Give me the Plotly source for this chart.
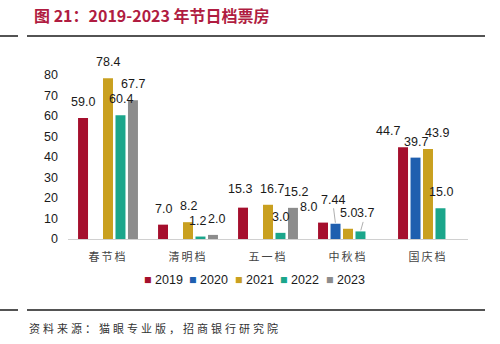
import plotly.graph_objects as go

categories = ["春节档", "清明档", "五一档", "中秋档", "国庆档"]
years = ["2019", "2020", "2021", "2022", "2023"]
v2019 = [59.0, 7.0, 15.3, 8.0, 44.7]
v2020 = [None, None, None, 7.44, 39.7]
v2021 = [78.4, 8.2, 16.7, 5.0, 43.9]
v2022 = [60.4, 1.2, 3.0, 3.7, 15.0]
v2023 = [67.7, 2.0, 15.2, None, None]
series = [v2019, v2020, v2021, v2022, v2023]
label_text = [
    ["59.0", "7.0", "15.3", "8.0", "44.7"],
    [None, None, None, "7.44", "39.7"],
    ["78.4", "8.2", "16.7", "5.0", "43.9"],
    ["60.4", "1.2", "3.0", "3.7", "15.0"],
    ["67.7", "2.0", "15.2", None, None],
]
colors = ["#a50f2d", "#1f5faf", "#c9a020", "#1ba68b", "#8c8c8c"]
y_ticks = [0, 10, 20, 30, 40, 50, 60, 70, 80]
title = "图 21：2019-2023 年节日档票房"
source = "资料来源：猫眼专业版，招商银行研究院"

# label pixel nudges (dx, dy) per (series, category)
nudge = {
    (0, 3): (-15, 0),
    (0, 4): (-15, 0),
    (2, 2): (4, 0),
    (4, 2): (3, 0),
    (2, 4): (9, 0),
    (0, 2): (-3, 3),
    (3, 1): (-3, 0),
    (4, 1): (3, 0),
}
leader = {(1, 3): (-3, -24), (3, 3): (5, -18)}

L, R, T, B = 68, 32, 75, 105
W, H = 500, 344
pw, ph = W - L - R, H - T - B

fig = go.Figure()
for i, (yr, vals, c) in enumerate(zip(years, series, colors)):
    fig.add_trace(go.Bar(x=categories, y=vals, name=yr, marker_color=c,
                         marker_line_width=0, showlegend=False))

slot = 12.5
anns = []
for i, vals in enumerate(series):
    off = (i - 2) * slot
    for j, v in enumerate(vals):
        t = label_text[i][j]
        if v is None or t is None:
            continue
        font = dict(family="Liberation Sans, Arial", size=12.5, color="#1a1a1a")
        if (i, j) in leader:
            ax, ay = leader[(i, j)]
            anns.append(dict(x=categories[j], y=v, xref="x", yref="y", text=t,
                             showarrow=True, arrowhead=0, arrowwidth=0.8,
                             arrowcolor="#999999", ax=ax, ay=ay, xshift=off,
                             standoff=1, font=font))
        else:
            dx, dy = nudge.get((i, j), (0, 0))
            anns.append(dict(x=categories[j], y=v, xref="x", yref="y", text=t,
                             showarrow=False, xshift=off + dx, yshift=16 + dy,
                             yanchor="middle", font=font))

# title and source
anns.append(dict(x=(32 - L) / pw, y=(239 - 15) / ph, xref="paper", yref="paper",
                 text="<b>" + title + "</b>", showarrow=False, xanchor="left",
                 yanchor="middle",
                 font=dict(family="Noto Sans CJK SC", size=16, color="#b01c41")))
anns.append(dict(x=(27 - L) / pw, y=(239 - 328) / ph, xref="paper", yref="paper",
                 text='<span style="letter-spacing:3px">' + source + "</span>",
                 showarrow=False, xanchor="left", yanchor="middle",
                 font=dict(family="Noto Sans CJK SC", size=11, color="#333333")))

# manual legend
leg_x0 = 142
for i, (yr, c) in enumerate(zip(years, colors)):
    px = leg_x0 + i * 45.4
    anns.append(dict(x=(px - L) / pw, y=(239 - 280) / ph, xref="paper", yref="paper",
                     text='<span style="color:%s">■</span> %s' % (c, yr),
                     showarrow=False, xanchor="left", yanchor="middle",
                     font=dict(family="Liberation Sans, Arial", size=12.5, color="#1a1a1a")))

shapes = []
for yy in (36, 310):
    for x0, x1 in ((0, 18), (27, 485)):
        shapes.append(dict(type="line", xref="paper", yref="paper",
                           x0=(x0 - L) / pw, x1=(x1 - L) / pw,
                           y0=(239 - yy) / ph, y1=(239 - yy) / ph,
                           line=dict(color="#1a1a1a", width=1.5)))

fig.update_layout(
    width=W, height=H,
    margin=dict(l=L, r=R, t=T, b=B),
    paper_bgcolor="white", plot_bgcolor="white",
    barmode="group", bargap=0.22, bargroupgap=0.2,
    annotations=anns, shapes=shapes, showlegend=False,
    xaxis=dict(showline=True, linecolor="#d0d0d0", linewidth=1, ticks="",
               tickvals=categories, ticklabelstandoff=8,
               ticktext=['<span style="letter-spacing:2px">%s</span>' % c for c in categories],
               tickfont=dict(family="Noto Sans CJK SC", size=11, color="#444444"),
               showgrid=False),
    yaxis=dict(range=[0, 80], tickvals=y_ticks, showgrid=False, zeroline=False,
               showline=False, ticks="", ticklabelstandoff=9,
               tickfont=dict(family="Liberation Sans, Arial", size=12.5, color="#1a1a1a")),
)
fig.write_html("out.html")
